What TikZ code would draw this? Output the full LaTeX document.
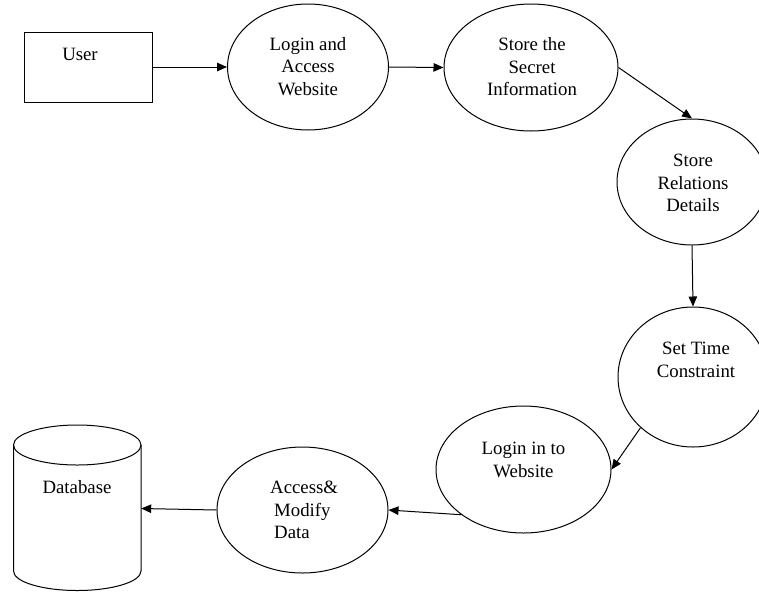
\documentclass[tikz,border=0pt]{standalone}
\usepackage{fontspec}
\setmainfont{Liberation Serif}
\usetikzlibrary{shapes.geometric,arrows.meta}
\begin{document}
\begin{tikzpicture}[x=1pt,y=-1pt,
  boxshape/.style={draw=black, line width=1pt, inner sep=0pt},
  proc/.style={ellipse, draw=black, line width=1pt, inner sep=0pt},
  txt/.style={font=\fontsize{18.8}{22.5}\selectfont, align=center, inner sep=0pt},
  flow/.style={-{Triangle[length=10pt,width=8.5pt]}, line width=1pt}]
\useasboundingbox (0,0) rectangle (759,592);
% shapes
\node[boxshape, minimum width=128pt, minimum height=70pt] (user) at (88,67) {};
\node[proc, minimum width=161pt, minimum height=126pt] (e1) at (308,67) {};
\node[proc, minimum width=174pt, minimum height=127pt] (e2) at (531,67.5) {};
\node[proc, minimum width=150pt, minimum height=126pt] (e3) at (692,182) {};
\node[proc, minimum width=150pt, minimum height=140pt] (e4) at (693,377) {};
\node[proc, minimum width=175pt, minimum height=127pt] (e5) at (523.5,469.5) {};
\node[proc, minimum width=171pt, minimum height=126pt] (e6) at (302.5,510) {};
% database cylinder
\draw[line width=1pt] (13.5,445) -- (13.5,571)
  arc[start angle=180, end angle=0, x radius=63.75, y radius=19.5] -- (141,445);
\draw[line width=1pt] (77.25,445) ellipse [x radius=63.75, y radius=20];
\node[inner sep=0pt, minimum width=127.5pt, minimum height=167pt] (db) at (77.25,508.5) {};
% texts
\node[txt] (t0) at (80,54) {User};
\node[txt] (t1) at (308,66.5) {Login and\\Access\\Website};
\node[txt] (t2) at (532,67) {Store the\\Secret\\Information};
\node[txt] (t3) at (693,183) {Store\\Relations\\Details};
\node[txt] (t4) at (696,360) {Set Time\\Constraint};
\node[txt] (t5) at (523.5,460) {Login in to\\Website};
\node[txt, align=left, anchor=west] (t6) at (270,510) {Access\&\\\hspace*{4pt}Modify\\\hspace*{4pt}Data};
\node[txt] (tdb) at (77,487) {Database};
% connectors
\draw[flow] (user.east) -- (e1.west);
\draw[flow] (e1.east) -- (e2.west);
\draw[flow] (e2.east) -- (e3.north);
\draw[flow] (e3.south) -- (e4.north);
\draw[flow] (e4.224) -- (e5.east);
\draw[flow] (e5.216) -- (e6.east);
\draw[flow] (e6.west) -- (db.east);
\end{tikzpicture}
\end{document}
